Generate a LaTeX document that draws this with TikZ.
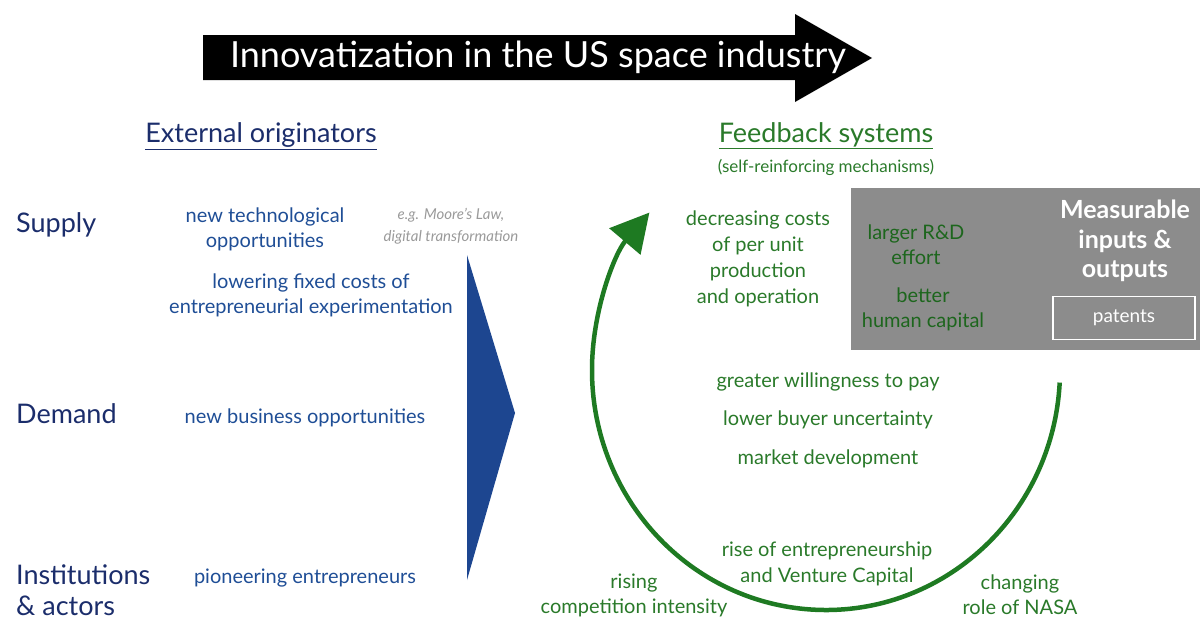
\documentclass[tikz,border=0pt]{standalone}
\usepackage{fontspec}
\setmainfont{Lato}
\usetikzlibrary{arrows.meta}

\definecolor{navy}{HTML}{1B2D6B}
\definecolor{itemblue}{HTML}{1F4E96}
\definecolor{wedgeblue}{HTML}{1D4690}
\definecolor{loopgreen}{HTML}{1E7A22}
\definecolor{textgreen}{HTML}{2A7A2A}
\definecolor{boxgreen}{HTML}{1D661D}
\definecolor{boxgray}{HTML}{8C8C8C}
\definecolor{notegray}{HTML}{9A9A9A}

\newcommand{\fs}[2]{\fontsize{#1}{#2}\selectfont}

\tikzset{
  every node/.style={inner sep=0pt, align=center},
  rowlabel/.style={text=navy, anchor=west, align=left, font=\fs{27}{31}},
  heading/.style={font=\fs{27}{30}},
  item/.style={text=itemblue, font=\fs{20}{25}},
  note/.style={text=notegray, font=\fs{15}{22}\itshape},
  loopitem/.style={text=textgreen, font=\fs{20}{25}},
  boxitem/.style={text=boxgreen, font=\fs{20}{25}},
}

\begin{document}
\begin{tikzpicture}[x=1pt, y=-1pt]
\useasboundingbox (0,0) rectangle (1200,622);

% banner arrow
\fill[black] (203,35) -- (795,35) -- (795,14) -- (872,58) -- (795,102)
  -- (795,80) -- (203,80) -- cycle;
\node[text=white, font=\fs{36}{38}] (title) at (538,57) {Innovatization in the US space industry};

% column headings
\node[heading, text=navy] (ext) at (261,136) {\underline{External originators}};
\node[heading, text=textgreen] (fb) at (826,136) {\underline{Feedback systems}};
\node[text=textgreen, font=\fs{17}{20}] (fbsub) at (826,167) {(self-reinforcing mechanisms)};

% row labels
\node[rowlabel] (supply) at (16,225) {Supply};
\node[rowlabel] (demand) at (16,414) {Demand};
\node[rowlabel] (inst) at (16,590) {Institutions\\\& actors};

% external originators
\node[item] (tech) at (265,229) {new technological\\opportunities};
\node[note] (moore) at (451,226) {e.g. Moore's Law,\\digital transformation};
\node[item] (fixed) at (311,295) {lowering fixed costs of\\entrepreneurial experimentation};
\node[item] (business) at (305,418) {new business opportunities};
\node[item] (pioneer) at (305,578) {pioneering entrepreneurs};

% wedge feeding into the loop
\fill[wedgeblue] (467,255) -- (515,413) -- (467,580) -- cycle;

% measurable inputs and outputs
\fill[boxgray] (851,188) rectangle (1200,350);
\node[text=white, font=\fs{25}{29.5}\bfseries] (meas) at (1125,241) {Measurable\\inputs \&\\outputs};
\node[draw=white, line width=1.6pt, minimum width=142pt, minimum height=43pt,
      text=white, font=\fs{19}{20}] (patents) at (1124,318) {patents};
\node[boxitem] (rd) at (916,245) {larger R\&D\\effort};
\node[boxitem] (human) at (923,309) {better\\human capital};

% feedback loop
\coordinate (loopc) at (826,370);
\draw[loopgreen, line width=4.5pt, -{Triangle[length=38pt, width=40pt]}]
  (loopc) ++(3:234 and 240) arc[start angle=3, end angle=221, x radius=234, y radius=240];

% feedback mechanisms
\node[loopitem, font=\fs{20}{26}] (costs) at (758,259) {decreasing costs\\of per unit\\production\\and operation};
\node[loopitem] (pay) at (828,382) {greater willingness to pay};
\node[loopitem] (uncert) at (828,420) {lower buyer uncertainty};
\node[loopitem] (market) at (828,459) {market development};
\node[loopitem, font=\fs{20}{26}] (vc) at (827,564) {rise of entrepreneurship\\and Venture Capital};
\node[loopitem] (compet) at (634,595) {rising\\competition intensity};
\node[loopitem] (nasa) at (1020,595) {changing\\role of NASA};
\end{tikzpicture}
\end{document}
